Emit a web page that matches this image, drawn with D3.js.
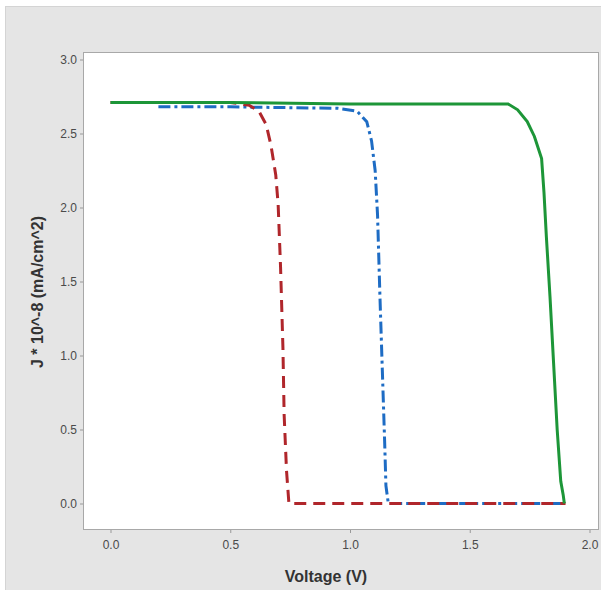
<!DOCTYPE html>
<html>
<head>
<meta charset="utf-8">
<script src="https://cdn.jsdelivr.net/npm/d3@7"></script>
<style>
  body { margin: 0; background: #fff; }
  svg { display: block; font-family: Arial, "Liberation Sans", sans-serif; }
</style>
</head>
<body>
<svg id="chart" width="601" height="590"></svg>
<script>
// J-V curves: [voltage V, J * 10^-8 mA/cm^2]
const redCurve = [
  [0, 2.71], [0.5, 2.71], [0.58, 2.69], [0.62, 2.65], [0.65, 2.56], [0.67, 2.42], [0.69, 2.22],
  [0.70, 2.02], [0.71, 1.60], [0.72, 1.05], [0.725, 0.60], [0.735, 0.22], [0.745, 0],
  [1.90, 0]
];
const blueCurve = [
  [0.2, 2.68], [0.5, 2.68], [0.95, 2.67], [1.03, 2.65], [1.07, 2.58], [1.09, 2.45], [1.105, 2.25],
  [1.115, 1.95], [1.125, 1.40], [1.135, 0.90], [1.145, 0.40], [1.15, 0.12], [1.16, 0],
  [1.90, 0]
];
const greenCurve = [
  [0, 2.71], [0.5, 2.71], [1.0, 2.70], [1.66, 2.70], [1.70, 2.66], [1.74, 2.58], [1.77, 2.48],
  [1.80, 2.33], [1.81, 2.10], [1.82, 1.80], [1.835, 1.40], [1.85, 0.95], [1.865, 0.50],
  [1.88, 0.15], [1.89, 0.06], [1.895, 0]
];
const xTicks = [0, 0.5, 1.0, 1.5, 2.0];
const yTicks = [0, 0.5, 1.0, 1.5, 2.0, 2.5, 3.0];
const xTitle = 'Voltage (V)';
const yTitle = 'J * 10^-8 (mA/cm^2)';

const svg = d3.select('#chart');

// grey panel behind the plot
svg.append('rect')
  .attr('x', 5.5).attr('y', 6.5)
  .attr('width', 601).attr('height', 590)
  .attr('fill', '#e5e5e5')
  .attr('stroke', '#d4d4d4');

const box = { left: 83, top: 52, right: 598, bottom: 529 };

const x = d3.scaleLinear().domain([0, 2]).range([110.5, 589.5]);
const y = d3.scaleLinear().domain([0, 3]).range([503.5, 59.5]);

svg.append('rect')
  .attr('x', box.left + 0.5).attr('y', box.top + 0.5)
  .attr('width', box.right - box.left).attr('height', box.bottom - box.top)
  .attr('fill', '#fff')
  .attr('stroke', '#a8a8a8');

const xAxis = svg.append('g')
  .attr('transform', `translate(0,${box.bottom + 1})`)
  .call(d3.axisBottom(x).tickValues(xTicks).tickFormat(d3.format('.1f')).tickSize(3).tickPadding(7));
const yAxis = svg.append('g')
  .attr('transform', `translate(${box.left},0)`)
  .call(d3.axisLeft(y).tickValues(yTicks).tickFormat(d3.format('.1f')).tickSize(3).tickPadding(3));

[xAxis, yAxis].forEach(g => {
  g.select('.domain').remove();
  g.selectAll('line').attr('stroke', '#999');
  g.selectAll('text').attr('fill', '#4a4a4a').style('font-size', '12px');
});

const line = d3.line().x(d => x(d[0])).y(d => y(d[1]));

// blue under red under green, as in the picture
const plot = svg.append('g');
plot.append('path').datum(blueCurve)
  .attr('d', line).attr('fill', 'none')
  .attr('stroke', '#1e6cc4').attr('stroke-width', 3)
  .attr('stroke-dasharray', '12 4 3 4');
plot.append('path').datum(redCurve)
  .attr('d', line).attr('fill', 'none')
  .attr('stroke', '#b0262b').attr('stroke-width', 3)
  .attr('stroke-dasharray', '12 7');
plot.append('path').datum(greenCurve)
  .attr('d', line).attr('fill', 'none')
  .attr('stroke', '#1d9638').attr('stroke-width', 3);

svg.append('text')
  .attr('x', 326).attr('y', 582)
  .attr('text-anchor', 'middle')
  .attr('fill', '#333')
  .style('font-size', '16px').style('font-weight', 'bold')
  .text(xTitle);

svg.append('text')
  .attr('transform', 'translate(43,292) rotate(-90)')
  .attr('text-anchor', 'middle')
  .attr('fill', '#333')
  .style('font-size', '16px').style('font-weight', 'bold')
  .text(yTitle);
</script>
</body>
</html>
